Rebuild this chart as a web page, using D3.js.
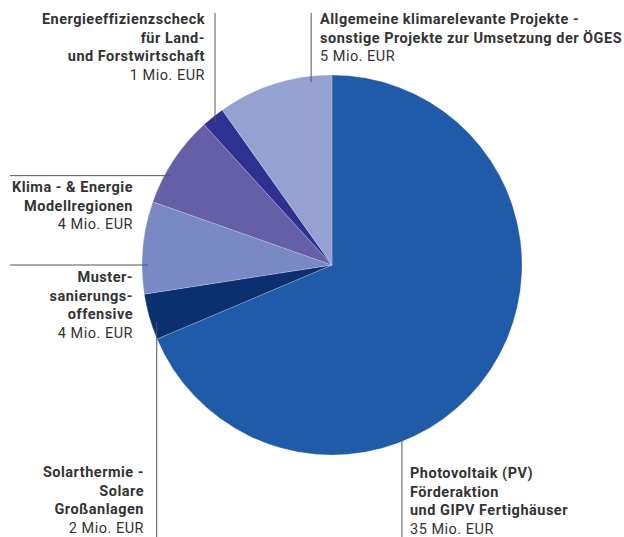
<!DOCTYPE html>
<html>
<head>
<meta charset="utf-8">
<script src="https://d3js.org/d3.v7.min.js"></script>
<style>
  body { margin: 0; background: #fff; }
  text { font-family: Roboto, "Noto Sans", sans-serif; fill: #333; }
</style>
</head>
<body>
<svg id="chart"></svg>
<script>
// data (Mio. EUR)
var categories = ["Photovoltaik", "Solarthermie", "Mustersanierung", "Klima", "Energieeffizienz", "Allgemeine"];
var values = [35, 2, 4, 4, 1, 5];
var titles = [
  ["Photovoltaik (PV)", "Förderaktion", "und GIPV Fertighäuser"],
  ["Solarthermie -", "Solare", "Großanlagen"],
  ["Muster-", "sanierungs-", "offensive"],
  ["Klima - & Energie", "Modellregionen"],
  ["Energieeffizienzscheck", "für Land-", "und Forstwirtschaft"],
  ["Allgemeine klimarelevante Projekte -", "sonstige Projekte zur Umsetzung der ÖGES"]
];
var colors = ["#1f5ba8", "#0b3070", "#7889c4", "#655fa8", "#2e3192", "#95a1d1"];

var width = 624, height = 537;
var cx = 332, cy = 265, radius = 190;

var svg = d3.select("#chart")
  .attr("width", width)
  .attr("height", height);

var pie = d3.pie().sort(null).value(function(d) { return d; });
var arc = d3.arc().innerRadius(0).outerRadius(radius);
var arcs = pie(values);

var g = svg.append("g").attr("transform", "translate(" + cx + "," + cy + ")");
g.selectAll("path")
  .data(arcs)
  .enter()
  .append("path")
    .attr("d", arc)
    .attr("fill", function(d, i) { return colors[i]; })
    .attr("stroke", "#ffffff")
    .attr("stroke-opacity", 0.35)
    .attr("stroke-width", 0.6);

// label layout: leader angle (deg, clockwise from top), leader direction, text anchor point
var layout = [
  {ang: 157.7, dir: "down",  tx: 410, ty: 478, anchor: "start"},
  {ang: 252,   dir: "down",  tx: 144, ty: 477, anchor: "end"},
  {ang: 270,   dir: "left",  tx: 133, ty: 282, anchor: "end"},
  {ang: 299,   dir: "left",  tx: 133, ty: 192, anchor: "end"},
  {ang: 320.6, dir: "up",    tx: 205, ty: 24,  anchor: "end"},
  {ang: 353.5, dir: "up",    tx: 320, ty: 24,  anchor: "start"}
];

var lineH = 18.7;
layout.forEach(function(l, i) {
  var a = l.ang * Math.PI / 180;
  var r = radius * 0.97;
  var px = cx + r * Math.sin(a), py = cy - r * Math.cos(a);
  var x2 = px, y2 = py;
  if (l.dir === "down") y2 = height;
  if (l.dir === "up") y2 = 13;
  if (l.dir === "left") x2 = 10;
  svg.append("line")
    .attr("x1", px).attr("y1", py)
    .attr("x2", x2).attr("y2", y2)
    .attr("stroke", "#555")
    .attr("stroke-width", 1);

  var t = svg.append("text")
    .attr("text-anchor", l.anchor)
    .style("font-size", "14.5px")
    .style("letter-spacing", "0.5px");
  titles[i].forEach(function(s, k) {
    t.append("tspan")
      .attr("x", l.tx)
      .attr("y", l.ty + k * lineH)
      .style("font-weight", "bold")
      .text(s);
  });
  t.append("tspan")
    .attr("x", l.tx)
    .attr("y", l.ty + titles[i].length * lineH)
    .style("font-weight", "normal")
    .text(values[i] + " Mio. EUR");
});
</script>
</body>
</html>
